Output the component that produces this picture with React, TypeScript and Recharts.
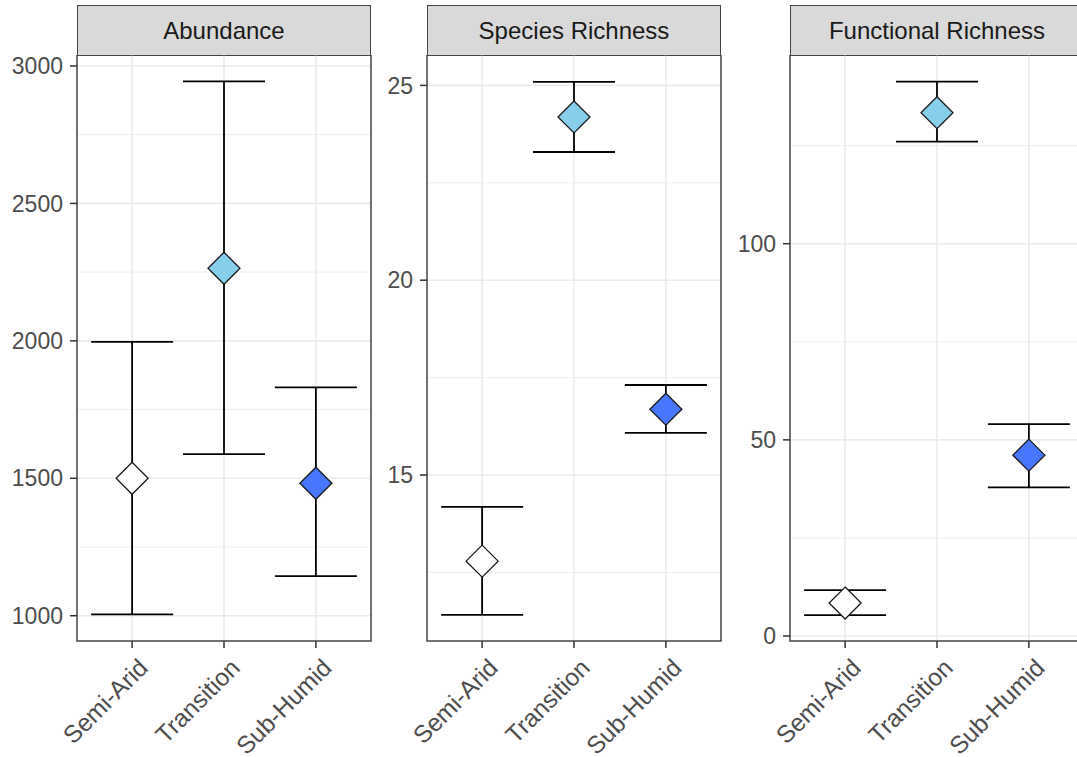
import React from 'react';
import {
  ComposedChart, Scatter, XAxis, YAxis, CartesianGrid, ErrorBar, ReferenceArea,
} from 'recharts';

const CATEGORIES = ['Semi-Arid', 'Transition', 'Sub-Humid'];
const CAT_POS = [1, 2, 3];
const COLORS = ['#FFFFFF', '#87CEEB', '#4876FF'];

const ABUND_MEAN = [1500, 2264, 1482];
const ABUND_LOW = [1005, 1588, 1144];
const ABUND_HIGH = [1996, 2944, 1831];
const ABUND_TICKS = [1000, 1500, 2000, 2500, 3000];
const ABUND_MINOR = [1250, 1750, 2250, 2750];
const ABUND_DOMAIN = [908, 3040];

const SR_MEAN = [12.79, 24.19, 16.69];
const SR_LOW = [11.41, 23.29, 16.08];
const SR_HIGH = [14.18, 25.09, 17.31];
const SR_TICKS = [15, 20, 25];
const SR_MINOR = [12.5, 17.5, 22.5];
const SR_DOMAIN = [10.74, 25.78];

const FR_MEAN = [8.4, 133.4, 46.1];
const FR_LOW = [5.35, 126.0, 37.9];
const FR_HIGH = [11.7, 141.3, 54.0];
const FR_TICKS = [0, 50, 100];
const FR_MINOR = [25, 75, 125];
const FR_DOMAIN = [-1.27, 148.1];

const PANEL_TITLES = ['Abundance', 'Species Richness', 'Functional Richness'];

const FONT = '"Liberation Sans", Arial, Helvetica, sans-serif';
const PLOT_TOP = 55;
const PLOT_BOTTOM = 641;
const PANEL_W = 294;
const Y_AXIS_W = 77;
const PANEL_LEFTS = [77, 427, 790];

function buildRows(mean: number[], low: number[], high: number[]) {
  return CATEGORIES.map((c, i) => ({
    x: CAT_POS[i],
    idx: i,
    cat: c,
    mean: mean[i],
    err: [mean[i] - low[i], high[i] - mean[i]],
  }));
}

const PANELS = [
  { rows: buildRows(ABUND_MEAN, ABUND_LOW, ABUND_HIGH), ticks: ABUND_TICKS, minor: ABUND_MINOR, domain: ABUND_DOMAIN },
  { rows: buildRows(SR_MEAN, SR_LOW, SR_HIGH), ticks: SR_TICKS, minor: SR_MINOR, domain: SR_DOMAIN },
  { rows: buildRows(FR_MEAN, FR_LOW, FR_HIGH), ticks: FR_TICKS, minor: FR_MINOR, domain: FR_DOMAIN },
];

const Diamond = (props: any) => {
  const { cx, cy, payload } = props;
  const r = 16;
  if (cx == null || cy == null) return null;
  return (
    <path
      d={`M${cx},${cy - r}L${cx + r},${cy}L${cx},${cy + r}L${cx - r},${cy}Z`}
      fill={COLORS[payload.idx]}
      stroke="#1a1a1a"
      strokeWidth={1.3}
    />
  );
};

const XTick = (props: any) => {
  const { x, y, payload } = props;
  const label = CATEGORIES[CAT_POS.indexOf(payload.value)];
  const ax = x + 5;
  const ay = y + 9;
  return (
    <text
      x={ax}
      y={ay}
      dy="0.71em"
      textAnchor="end"
      transform={`rotate(-45, ${ax}, ${ay})`}
      fontSize={24.5}
      fill="#4D4D4D"
      fontFamily={FONT}
    >
      {label}
    </text>
  );
};

function Panel({ index }: { index: number }) {
  const p = PANELS[index];
  const left = PANEL_LEFTS[index] - Y_AXIS_W;
  const chartW = Y_AXIS_W + PANEL_W + 2;
  const chartH = 757 - PLOT_TOP;
  const xAxisH = chartH - (PLOT_BOTTOM - PLOT_TOP);
  return (
    <>
      <div
        style={{
          position: 'absolute',
          left: PANEL_LEFTS[index],
          top: 5,
          width: PANEL_W,
          height: 51,
          boxSizing: 'border-box',
          background: '#D9D9D9',
          border: '1.5px solid #444',
          display: 'flex',
          alignItems: 'center',
          justifyContent: 'center',
          fontFamily: FONT,
          fontSize: 24,
          color: '#1A1A1A',
        }}
      >
        {PANEL_TITLES[index]}
      </div>
      <div style={{ position: 'absolute', left, top: PLOT_TOP }}>
        <ComposedChart
          width={chartW}
          height={chartH}
          margin={{ top: 0, right: 2, bottom: 0, left: 0 }}
          data={p.rows}
        >
          <CartesianGrid
            horizontalValues={p.minor}
            vertical={false}
            stroke="#EDEDED"
            strokeWidth={1}
          />
          <CartesianGrid
            horizontalValues={p.ticks}
            verticalValues={CAT_POS}
            stroke="#EBEBEB"
            strokeWidth={1.6}
          />
          <XAxis
            dataKey="x"
            type="number"
            domain={[0.4, 3.6]}
            ticks={CAT_POS}
            allowDataOverflow
            height={xAxisH}
            axisLine={false}
            tickLine={{ stroke: '#333', strokeWidth: 1.5 }}
            tickSize={7}
            tickMargin={0}
            tick={<XTick />}
            interval={0}
          />
          <YAxis
            dataKey="mean"
            type="number"
            domain={p.domain}
            ticks={p.ticks}
            allowDataOverflow
            width={Y_AXIS_W}
            axisLine={false}
            tickLine={{ stroke: '#333', strokeWidth: 1.5 }}
            tickSize={7}
            tickMargin={7}
            tick={{ fontSize: 23, fill: '#4D4D4D', fontFamily: FONT }}
            interval={0}
          />
          <ReferenceArea
            x1={0.4}
            x2={3.6}
            y1={p.domain[0]}
            y2={p.domain[1]}
            fill="none"
            fillOpacity={0}
            stroke="#444"
            strokeWidth={1.5}
            ifOverflow="visible"
          />
          <Scatter
            data={p.rows}
            dataKey="mean"
            shape={<Diamond />}
            isAnimationActive={false}
          >
            <ErrorBar
              dataKey="err"
              direction="y"
              width={41}
              stroke="#000"
              strokeWidth={1.8}
              isAnimationActive={false}
            />
          </Scatter>
        </ComposedChart>
      </div>
    </>
  );
}

export default function App() {
  return (
    <div
      style={{
        position: 'absolute',
        left: 0,
        top: 0,
        width: 1077,
        height: 757,
        overflow: 'hidden',
        background: '#fff',
      }}
    >
      <Panel index={0} />
      <Panel index={1} />
      <Panel index={2} />
    </div>
  );
}
